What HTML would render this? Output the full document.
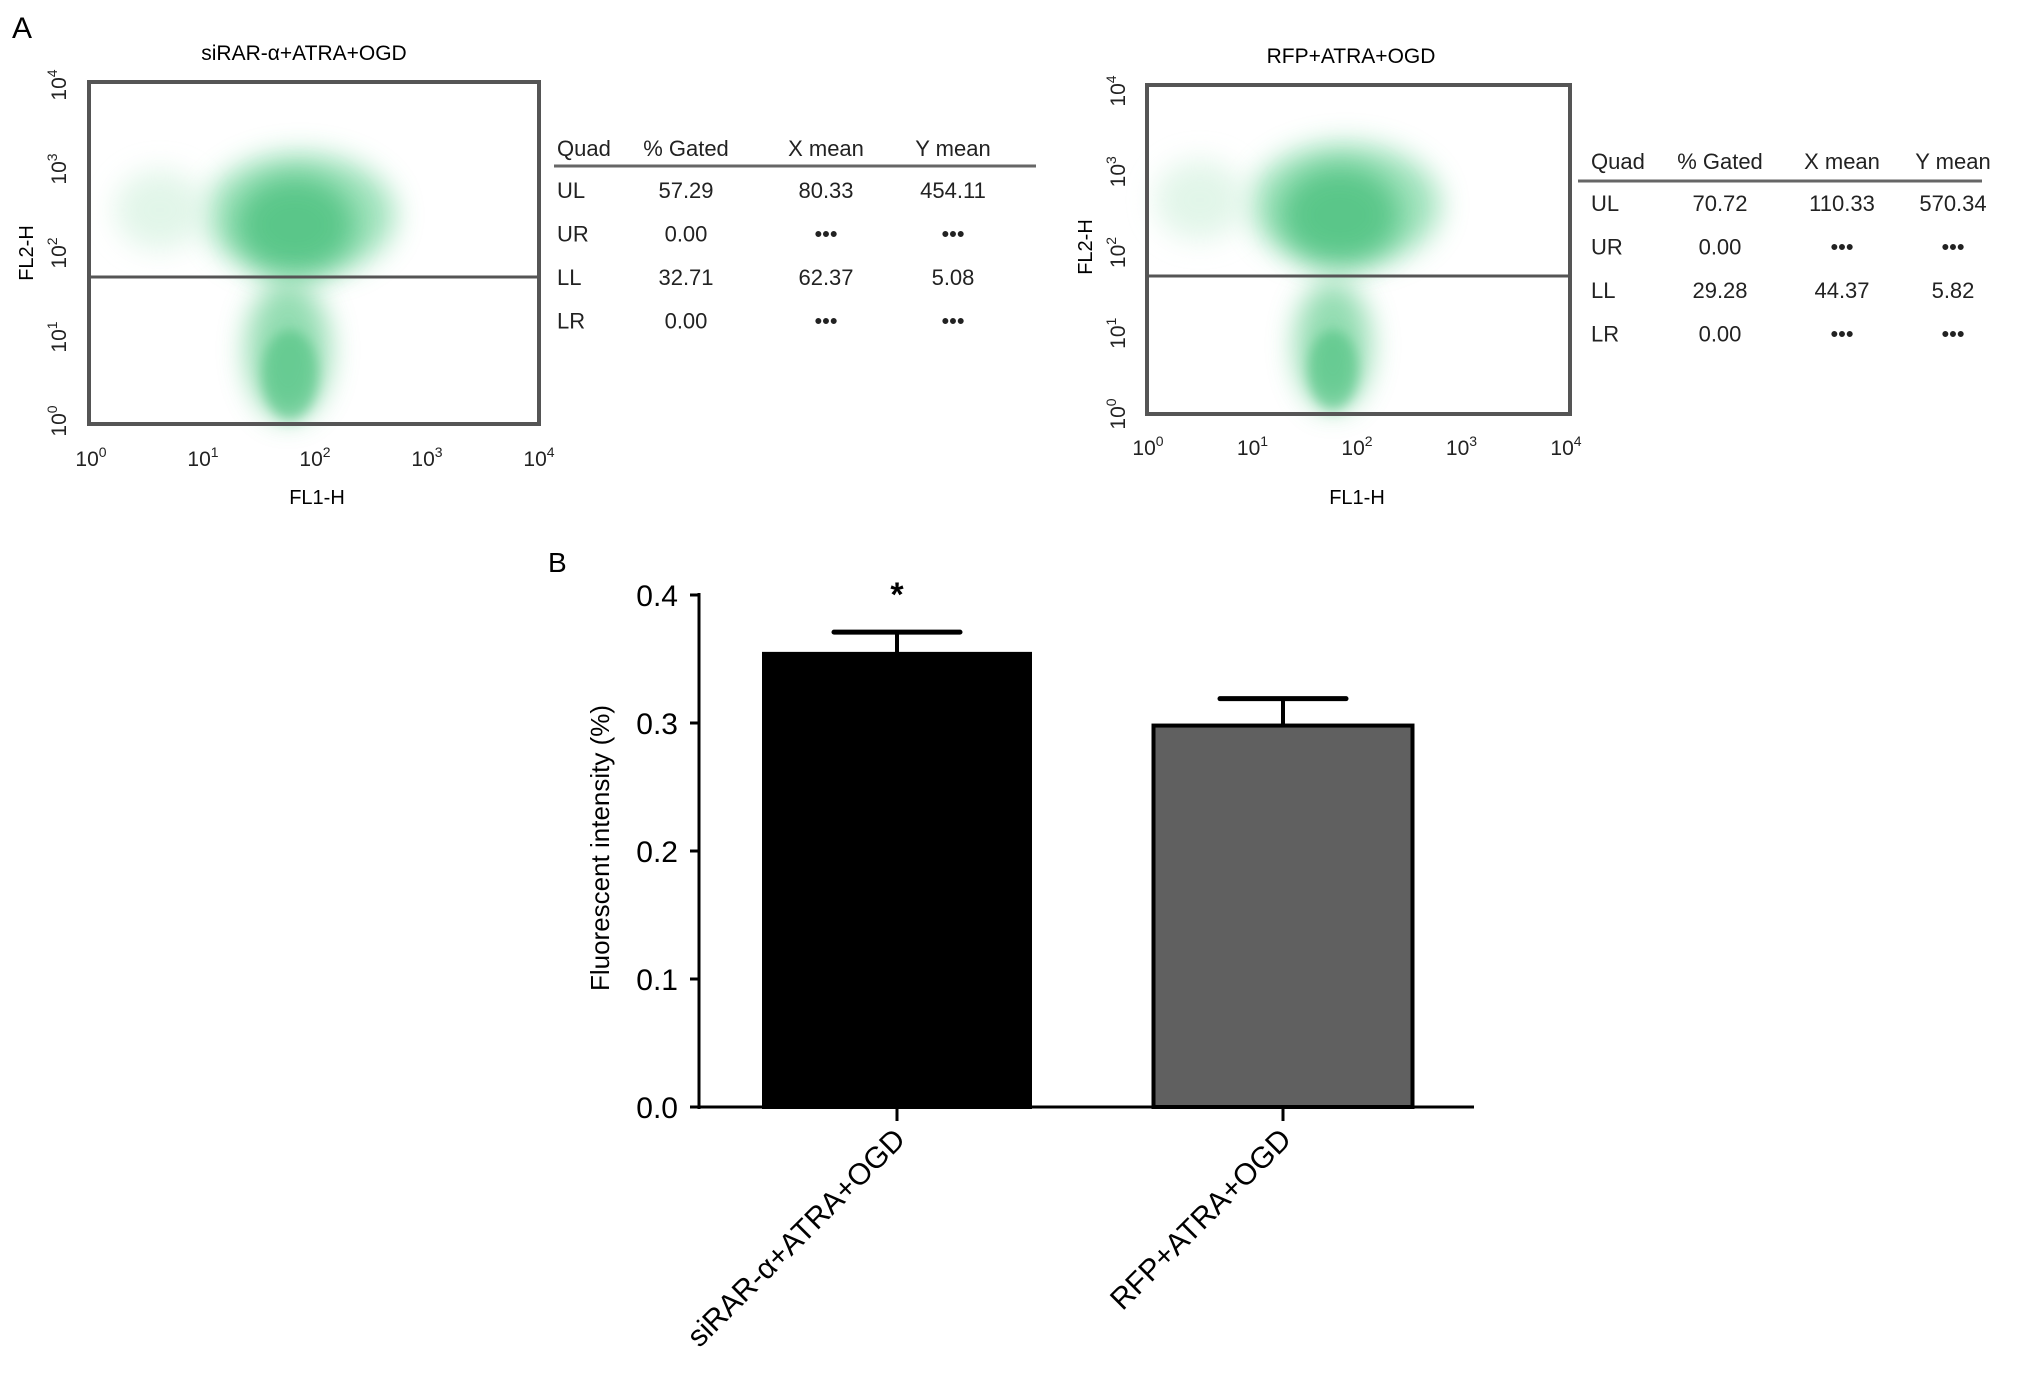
<!DOCTYPE html>
<html><head><meta charset="utf-8"><style>
html,body{margin:0;padding:0;background:#fff;}
svg{display:block;font-family:"Liberation Sans",sans-serif;}
</style></head><body>
<svg id="fig" width="2031" height="1378" viewBox="0 0 2031 1378" xmlns="http://www.w3.org/2000/svg">
<defs>
<filter id="blur" x="-50%" y="-50%" width="200%" height="200%"><feGaussianBlur stdDeviation="14"/></filter>
<filter id="blur2" x="-50%" y="-50%" width="200%" height="200%"><feGaussianBlur stdDeviation="6"/></filter>
</defs>
<text x="12" y="38" font-size="30">A</text>
<text x="548" y="572" font-size="28">B</text>

<g>
<text x="304" y="60" font-size="21" text-anchor="middle">siRAR-α+ATRA+OGD</text>
<g>
<ellipse cx="300" cy="215" rx="95" ry="62" fill="#7fd9a5" filter="url(#blur)" opacity="0.75"/>
<ellipse cx="295" cy="225" rx="60" ry="50" fill="#3cbb74" filter="url(#blur)" opacity="0.7"/>
<ellipse cx="160" cy="210" rx="45" ry="40" fill="#d5f2e0" filter="url(#blur)" opacity="0.7"/>
<ellipse cx="288" cy="350" rx="42" ry="70" fill="#6fd198" filter="url(#blur)" opacity="0.75"/>
<ellipse cx="290" cy="375" rx="28" ry="45" fill="#3cbb74" filter="url(#blur2)" opacity="0.5"/>
</g>
<rect x="89" y="82" width="450" height="342" fill="none" stroke="#555" stroke-width="4"/>
<line x1="89" y1="277" x2="539" y2="277" stroke="#555" stroke-width="3"/>
</g>
<g id="ax1" font-size="21" fill="#222"></g>
<text x="317" y="504" font-size="20" text-anchor="middle">FL1-H</text>
<text transform="translate(33,253) rotate(-90)" font-size="20" text-anchor="middle">FL2-H</text>

<g>
<text x="1351" y="63" font-size="21" text-anchor="middle">RFP+ATRA+OGD</text>
<g>
<ellipse cx="1345" cy="205" rx="95" ry="62" fill="#7fd9a5" filter="url(#blur)" opacity="0.75"/>
<ellipse cx="1340" cy="215" rx="60" ry="50" fill="#3cbb74" filter="url(#blur)" opacity="0.7"/>
<ellipse cx="1200" cy="200" rx="45" ry="40" fill="#d5f2e0" filter="url(#blur)" opacity="0.7"/>
<ellipse cx="1333" cy="345" rx="38" ry="65" fill="#6fd198" filter="url(#blur)" opacity="0.75"/>
<ellipse cx="1333" cy="370" rx="25" ry="40" fill="#3cbb74" filter="url(#blur2)" opacity="0.5"/>
</g>
<rect x="1147" y="85" width="423" height="329" fill="none" stroke="#555" stroke-width="4"/>
<line x1="1147" y1="276" x2="1570" y2="276" stroke="#555" stroke-width="3"/>
</g>
<g id="ax2" font-size="21" fill="#222"></g>
<text x="1357" y="504" font-size="20" text-anchor="middle">FL1-H</text>
<text transform="translate(1092,247) rotate(-90)" font-size="20" text-anchor="middle">FL2-H</text>

<g id="tables" font-size="22" fill="#222"></g>
<g id="bars"></g>

<script>
const flowExp = ["0","1","2","3","4"];
const quadHeaders = ["Quad","% Gated","X mean","Y mean"];
const table1 = [["UL","57.29","80.33","454.11"],["UR","0.00","•••","•••"],["LL","32.71","62.37","5.08"],["LR","0.00","•••","•••"]];
const table2 = [["UL","70.72","110.33","570.34"],["UR","0.00","•••","•••"],["LL","29.28","44.37","5.82"],["LR","0.00","•••","•••"]];
const categories = ["siRAR-α+ATRA+OGD","RFP+ATRA+OGD"];
const means = [0.354, 0.298];
const errors = [0.017, 0.021];
const yTicks = [0.0,0.1,0.2,0.3,0.4];
const yTickLabels = ["0.0","0.1","0.2","0.3","0.4"];
const barColors = ["#000000","#606060"];
const NS="http://www.w3.org/2000/svg";
function mk(parent,tag,attrs,text){const e=document.createElementNS(NS,tag);for(const k in attrs)e.setAttribute(k,attrs[k]);if(text!==undefined)e.textContent=text;parent.appendChild(e);return e;}
function pow10(t,ex){mk(t,'tspan',{},'10');mk(t,'tspan',{dy:'-9','font-size':'14'},ex);}

function flowAxes(g,L,R,T,B,xLabY,yLabX,pre){
  flowExp.forEach((ex,i)=>{
    const x=L+(R-L)*i/4;
    const t=mk(g,'text',{x:x,y:xLabY,'text-anchor':'middle'});
    
    
    pow10(t,ex);
    const y=B-(B-T)*i/4;
    const t2=mk(g,'text',{transform:'translate('+yLabX+','+y+') rotate(-90)','text-anchor':'middle'});
    
    
    pow10(t2,ex);
  });
}
flowAxes(document.getElementById('ax1'),91,539,85,421,466,66,'sirar');
flowAxes(document.getElementById('ax2'),1148,1566,91,414,455,1125,'rfp');

function table(g,cols,hy,lineX1,lineX2,lineY,rows,pre){
  quadHeaders.forEach((h,i)=>{
    const t=mk(g,'text',{x:cols[i],y:hy,'text-anchor':i==0?'start':'middle'},h);
    
    
  });
  const l=mk(g,'line',{x1:lineX1,x2:lineX2,y1:lineY,y2:lineY,stroke:'#666','stroke-width':3});
  
  
  rows.forEach((r,j)=>{r.forEach((c,i)=>{
    const t=mk(g,'text',{x:cols[i],y:hy+42+j*43.5,'text-anchor':i==0?'start':'middle'},c);
    
    
  });});
}
const tg=document.getElementById('tables');
table(tg,[557,686,826,953],156,554,1036,166,table1,'table-sirar');
table(tg,[1591,1720,1842,1953],169,1578,1982,181,table2,'table-rfp');

const bg=document.getElementById('bars');
const x0=699,y0=1107,yTop=595,yMax=0.4;
const yS=v=>y0-(y0-yTop)*v/yMax;
const barCenters=[897,1283],barW=[266,259];
const ax=mk(bg,'line',{x1:x0,x2:x0,y1:yTop-2,y2:y0+2,stroke:'#000','stroke-width':3});

const xa=mk(bg,'line',{x1:691,x2:1474,y1:y0,y2:y0,stroke:'#000','stroke-width':3});

yTicks.forEach((v,i)=>{
  const y=yS(v);
  const tk=mk(bg,'line',{x1:690,x2:x0,y1:y,y2:y,stroke:'#000','stroke-width':3});
  
  const t=mk(bg,'text',{x:678,y:y+11,'text-anchor':'end','font-size':30},yTickLabels[i]);
  
});
const yt=mk(bg,'text',{transform:'translate(609,848) rotate(-90)','text-anchor':'middle','font-size':26},'Fluorescent intensity (%)');

categories.forEach((c,i)=>{
  const cx=barCenters[i],w=barW[i];
  const top=yS(means[i]),et=yS(means[i]+errors[i]);
  const el=mk(bg,'line',{x1:cx,x2:cx,y1:et,y2:top,stroke:'#000','stroke-width':4});
  
  const cap=mk(bg,'line',{x1:cx-63,x2:cx+63,y1:et,y2:et,stroke:'#000','stroke-width':5,'stroke-linecap':'round'});
  
  const r=mk(bg,'rect',{x:cx-w/2,y:top,width:w,height:y0-top,fill:barColors[i],stroke:'#000','stroke-width':4});
  
  const tk=mk(bg,'line',{x1:cx,x2:cx,y1:y0,y2:y0+14,stroke:'#000','stroke-width':3});
  
  const lab=mk(bg,'text',{transform:'translate('+(cx+10)+','+(y0+34)+') rotate(-45)','text-anchor':'end','font-size':30},c);
  
});
const st=mk(bg,'text',{x:barCenters[0],y:606,'text-anchor':'middle','font-size':34,'font-weight':'bold'},'*');

</script>
</svg>
</body></html>
